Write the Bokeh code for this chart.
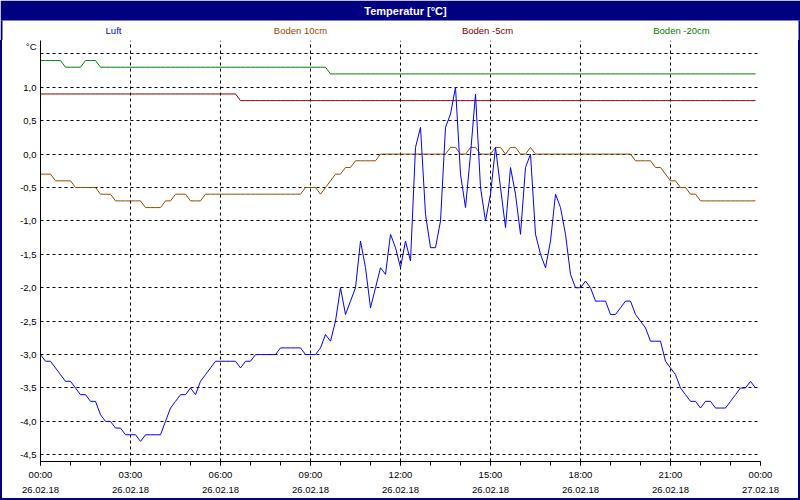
from bokeh.plotting import figure
from bokeh.layouts import column
from bokeh.models import FixedTicker, LinearAxis, ColumnDataSource, Range1d
from bokeh.core.properties import value
from bokeh.embed import file_html
from bokeh.resources import INLINE

# ---------------- data (10-minute readings, 26.02.18) ----------------
interval_minutes = 10

luft = [
    -3.0, -3.1, -3.1, -3.2, -3.3, -3.4, -3.4, -3.5, -3.6, -3.6,
    -3.7, -3.7, -3.9, -4.0, -4.0, -4.1, -4.1, -4.2, -4.2, -4.2,
    -4.3, -4.2, -4.2, -4.2, -4.2, -4.0, -3.8, -3.7, -3.6, -3.6,
    -3.5, -3.6, -3.4, -3.3, -3.2, -3.1, -3.1, -3.1, -3.1, -3.1,
    -3.2, -3.1, -3.1, -3.0, -3.0, -3.0, -3.0, -3.0, -2.9, -2.9,
    -2.9, -2.9, -2.9, -3.0, -3.0, -3.0, -2.9, -2.7, -2.8, -2.5,
    -2.0, -2.4, -2.2, -2.0, -1.3, -1.7, -2.3, -2.0, -1.7, -1.8,
    -1.2, -1.4, -1.7, -1.3, -1.6, 0.1, 0.4, -0.9, -1.4, -1.4,
    -1.0, 0.4, 0.6, 1.0, -0.3, -0.8, 0.0, 0.9, -0.5, -1.0,
    -0.6, 0.1, -0.5, -1.1, -0.2, -0.6, -1.2, -0.2, 0.0, -1.2,
    -1.5, -1.7, -1.3, -0.6, -0.8, -1.2, -1.8, -2.0, -2.0, -1.9,
    -2.0, -2.2, -2.2, -2.2, -2.4, -2.4, -2.3, -2.2, -2.2, -2.4,
    -2.5, -2.6, -2.8, -2.8, -2.8, -3.1, -3.2, -3.3, -3.5, -3.6,
    -3.7, -3.7, -3.8, -3.7, -3.7, -3.8, -3.8, -3.8, -3.7, -3.6,
    -3.5, -3.5, -3.4, -3.5,
]

boden_10 = (
    [-0.3] * 3 + [-0.4] * 4 + [-0.5] * 5 + [-0.6] * 3 + [-0.7] * 6 +
    [-0.8] * 4 + [-0.7] * 2 + [-0.6] * 3 + [-0.7] * 3 + [-0.6] * 20 +
    [-0.5] * 3 + [-0.6, -0.5, -0.4, -0.3, -0.3, -0.2, -0.2] + [-0.1] * 5 +
    [0.0] * 14 + [0.1, 0.1, 0.0, 0.0, 0.1, 0.1, 0.0, 0.0, 0.0, 0.1, 0.1, 0.0,
                  0.1, 0.1, 0.0, 0.0, 0.1, 0.0] +
    [0.0] * 19 + [-0.1] * 4 + [-0.2] * 2 + [-0.3] + [-0.4] * 2 +
    [-0.5] * 2 + [-0.6] * 2 + [-0.7] * 12
)

boden_m5 = [0.9] * 40 + [0.8] * 104

boden_m20 = [1.4] * 5 + [1.3] * 4 + [1.4] * 3 + [1.3] * 46 + [1.2] * 86

series_names = ["Luft", "Boden 10cm", "Boden -5cm", "Boden -20cm"]
series_colors = ["#0000FF", "#964B00", "#800000", "#008000"]

hours = [i * interval_minutes / 60 for i in range(len(luft))]

x_time_labels = ["00:00", "03:00", "06:00", "09:00", "12:00", "15:00", "18:00", "21:00", "00:00"]
x_date_labels = ["26.02.18"] * 8 + ["27.02.18"]
x_label_hours = [0, 3, 6, 9, 12, 15, 18, 21, 24]

y_tick_values = [-4.5, -4.0, -3.5, -3.0, -2.5, -2.0, -1.5, -1.0, -0.5, 0.0, 0.5, 1.0]
y_tick_labels = ["-4,5", "-4,0", "-3,5", "-3,0", "-2,5", "-2,0", "-1,5", "-1,0", "-0,5", "0,0", "0,5", "1,0"]
unit_label = "°C"
title_text = "Temperatur [°C]"

FONT = "Liberation Sans"
FS = "9.5px"
NAVY = "#000080"
FRAME_SHADOW = "inset 2px 0 0 #000080, inset -2px 0 0 #000080"

# ---------------- header (title bar + series names) ----------------
hdr = figure(width=800, height=40, x_range=Range1d(0, 800), y_range=Range1d(40, 0),
             output_backend="svg", toolbar_location=None,
             min_border=0, x_axis_type=None, y_axis_type=None)
hdr.frame_align = False
hdr.grid.visible = False
hdr.outline_line_color = None
hdr.background_fill_color = "white"
hdr.border_fill_color = "white"
hdr.quad(left=[0], right=[800], top=[0], bottom=[20], fill_color=NAVY, line_color=None)
hdr.quad(left=[0], right=[2], top=[20], bottom=[40], fill_color=NAVY, line_color=None)
hdr.quad(left=[798], right=[800], top=[20], bottom=[40], fill_color=NAVY, line_color=None)
hdr.text(x=[405], y=[10], text=[title_text], text_align="center", text_baseline="middle",
         text_color="white", text_font=value(FONT), text_font_style="bold", text_font_size="11px")
legend_src = ColumnDataSource(dict(x=[113, 300, 487, 681], y=[30] * 4,
                                   name=series_names, color=series_colors))
hdr.text(x="x", y="y", text="name", text_color="color", source=legend_src,
         text_align="center", text_baseline="middle",
         text_font=value(FONT), text_font_size=FS)

# ---------------- main chart ----------------
source = ColumnDataSource(dict(t=hours, luft=luft, b10=boden_10[:len(luft)],
                               b5=boden_m5[:len(luft)], b20=boden_m20[:len(luft)]))

p = figure(width=800, height=460, x_range=Range1d(0, 24), y_range=Range1d(-4.6, 1.7),
           output_backend="svg", toolbar_location=None,
           min_border_left=40, min_border_right=40, min_border_top=0, min_border_bottom=39)
p.frame_align = False
p.outline_line_color = None
p.background_fill_color = "white"
p.border_fill_color = None
p.styles = {"box-shadow": "inset 2px 0 0 #000080, inset -2px 0 0 #000080, inset 0 -2px 0 #000080",
            "background-color": "white"}

# x axis (times)
xa = p.xaxis[0]
xa.ticker = FixedTicker(ticks=x_label_hours, minor_ticks=list(range(0, 25)))
xa.major_label_overrides = {float(h): s for h, s in zip(x_label_hours, x_time_labels)}
xa.major_tick_out = 4
xa.major_tick_in = 0
xa.minor_tick_out = 4
xa.minor_tick_in = 0
xa.major_label_standoff = 3
xa.axis_line_color = "black"
xa.major_tick_line_color = "black"
xa.minor_tick_line_color = "black"
xa.major_label_text_font = FONT
xa.major_label_text_font_size = FS
xa.major_label_text_color = "black"

# second x axis (dates)
xd = LinearAxis(ticker=FixedTicker(ticks=x_label_hours, minor_ticks=[]))
xd.major_label_overrides = {float(h): s for h, s in zip(x_label_hours, x_date_labels)}
xd.axis_line_color = None
xd.major_tick_line_color = None
xd.minor_tick_line_color = None
xd.major_tick_out = 0
xd.major_tick_in = 0
xd.major_label_standoff = 4
xd.major_label_text_font = FONT
xd.major_label_text_font_size = FS
xd.major_label_text_color = "black"
p.add_layout(xd, "below")

# y axis
ya = p.yaxis[0]
ya.ticker = FixedTicker(ticks=y_tick_values + [1.62], minor_ticks=[])
ov = {float(v): s for v, s in zip(y_tick_values, y_tick_labels)}
ov[1.62] = unit_label
ya.major_label_overrides = ov
ya.major_tick_out = 0
ya.major_tick_in = 0
ya.minor_tick_line_color = None
ya.major_label_standoff = 4
ya.axis_line_color = "black"
ya.major_label_text_font = FONT
ya.major_label_text_font_size = FS
ya.major_label_text_color = "black"

# grids
p.xgrid.ticker = FixedTicker(ticks=[3, 6, 9, 12, 15, 18, 21])
p.ygrid.ticker = FixedTicker(ticks=y_tick_values + [1.5])
for g in (p.xgrid, p.ygrid):
    g.grid_line_color = "black"
    g.grid_line_dash = "3 3"
    g.grid_line_width = 1
    g.grid_line_alpha = 1.0

# lines
for col, color in zip(["b20", "b5", "b10", "luft"],
                      [series_colors[3], series_colors[2], series_colors[1], series_colors[0]]):
    p.line("t", col, source=source, line_color=color, line_width=1)

layout = column(hdr, p, spacing=0)
open("out.html", "w").write(file_html(layout, INLINE))
